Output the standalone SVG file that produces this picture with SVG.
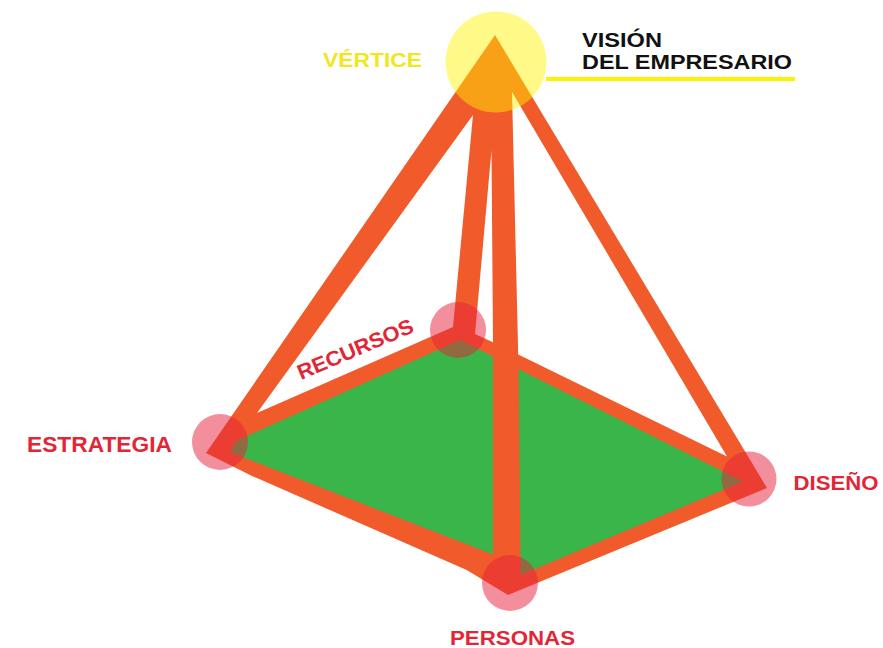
<svg xmlns="http://www.w3.org/2000/svg" width="883" height="648" viewBox="0 0 883 648">
<style>
.frame{fill:#F15A2B}
.hole{fill:#FFFFFF}
.face{fill:#3AB54A}
.dot{fill:#E8203A;fill-opacity:0.5}
.lbl{font-family:"Liberation Sans",Arial,sans-serif;font-weight:bold;fill:#E32636}
</style>
<rect width="883" height="648" fill="#FFFFFF"/>
<g id="connectors">
<polygon class="frame" points="495,35 767,488 508,595 466.7,570 250,475 206,453"/>
<polygon class="hole" points="473,115 257,413 453,327"/>
<polygon class="hole" points="491.5,150 475,334 493,342.3"/>
<polygon class="hole" points="512,92 518.2,354.5 727,456.4"/>
<polygon class="face" points="236,441 460,340 493,356.5 493,554.5 250,460 230,452"/>
<polygon class="face" points="518.6,369.3 743,481.5 520.7,575"/>
</g>
<g id="estrategia">
<circle class="dot" cx="220" cy="442" r="28"/>
<text class="lbl" x="27" y="451.5" font-size="22.5" textLength="145" lengthAdjust="spacingAndGlyphs">ESTRATEGIA</text>
</g>
<g id="recursos">
<circle class="dot" cx="458" cy="330" r="28"/>
<text class="lbl" x="0" y="0" font-size="21" textLength="124" lengthAdjust="spacingAndGlyphs" transform="translate(301,380) rotate(-23)">RECURSOS</text>
</g>
<g id="diseno">
<circle class="dot" cx="749" cy="479" r="27.5"/>
<text class="lbl" x="793.5" y="490" font-size="21" textLength="85" lengthAdjust="spacingAndGlyphs">DISEÑO</text>
</g>
<g id="personas">
<circle class="dot" cx="510" cy="583" r="28"/>
<text class="lbl" x="450" y="645" font-size="21" textLength="125" lengthAdjust="spacingAndGlyphs">PERSONAS</text>
</g>
<g id="apex">
<circle cx="496" cy="62" r="50.5" fill="#FFF200" fill-opacity="0.47"/>
<text x="323" y="67" font-family="'Liberation Sans',Arial,sans-serif" font-weight="bold" font-size="21" fill="#F2E61E" textLength="99" lengthAdjust="spacingAndGlyphs">VÉRTICE</text>
</g>
<g id="vision">
<line x1="546" y1="79" x2="795" y2="79" stroke="#FFF200" stroke-width="4"/>
<text x="582" y="47" font-family="'Liberation Sans',Arial,sans-serif" font-weight="bold" font-size="19.5" fill="#111111" textLength="80" lengthAdjust="spacingAndGlyphs">VISIÓN</text>
<text x="582" y="69" font-family="'Liberation Sans',Arial,sans-serif" font-weight="bold" font-size="19.5" fill="#111111" textLength="210" lengthAdjust="spacingAndGlyphs">DEL EMPRESARIO</text>
</g>
</svg>
